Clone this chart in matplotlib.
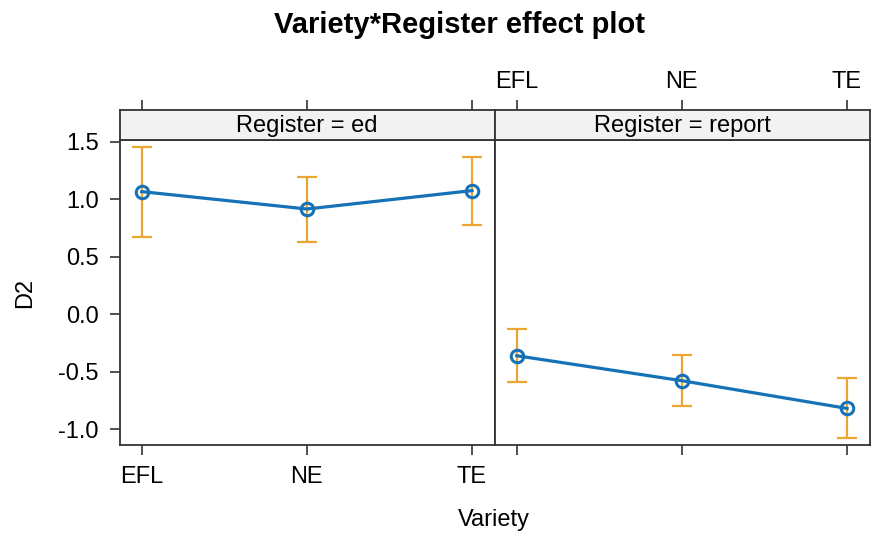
import numpy as np
import matplotlib
matplotlib.use("Agg")
import matplotlib.pyplot as plt

plt.rcParams['font.family'] = ['Liberation Sans', 'DejaVu Sans']

# effect estimates with 95% confidence limits, one list per register
varieties = ["EFL", "NE", "TE"]
registers = ["ed", "report"]
fit_ed = [1.066, 0.915, 1.075]
lower_ed = [0.674, 0.631, 0.774]
upper_ed = [1.458, 1.197, 1.371]
fit_report = [-0.361, -0.578, -0.819]
lower_report = [-0.587, -0.796, -1.075]
upper_report = [-0.131, -0.352, -0.552]
yticks = [-1.0, -0.5, 0.0, 0.5, 1.0, 1.5]

line_col = "#1572b6"
ci_col = "#eaa533"
frame_col = "#333333"
W, H = 875, 536
fs = 17

fig = plt.figure(figsize=(W / 100, H / 100), dpi=100)


def px_axes(x0, y0, x1, y1):
    # axes from pixel box (top-left origin)
    return fig.add_axes([x0 / W, 1 - y1 / H, (x1 - x0) / W, (y1 - y0) / H])


x = np.arange(1, len(varieties) + 1)
xlim = (0.865, 3.136)
ylim = (-1.137, 1.515)

panels = [
    (119.5, 494.5, fit_ed, lower_ed, upper_ed),
    (494.5, 869.5, fit_report, lower_report, upper_report),
]

for i, (x0, x1, fit, lo, hi) in enumerate(panels):
    ax = px_axes(x0, 140, x1, 445)
    strip = px_axes(x0, 109.5, x1, 140)

    fit = np.array(fit)
    lo = np.array(lo)
    hi = np.array(hi)
    ax.errorbar(x, fit, yerr=[fit - lo, hi - fit], fmt="none", ecolor=ci_col,
                elinewidth=1.6, capsize=7.5, capthick=1.6, zorder=2)
    ax.plot(x, fit, color=line_col, lw=2.3, marker="o", ms=9, mfc="none",
            mec=line_col, mew=2.2, zorder=3)

    ax.set_xlim(xlim)
    ax.set_ylim(ylim)
    ax.set_xticks(x)
    ax.set_yticks(yticks)
    ax.set_yticklabels([f"{v:.1f}" for v in yticks])
    ax.tick_params(direction="out", length=7, width=1.2, color=frame_col,
                   labelsize=fs, pad=8)
    if i == 0:
        ax.set_xticklabels(varieties)
        ax.set_ylabel("D2", fontsize=fs, labelpad=16)
    else:
        ax.set_xticklabels([])
        ax.tick_params(axis="y", left=False, labelleft=False)
    for s in ax.spines.values():
        s.set_color(frame_col)
        s.set_linewidth(1.3)

    # strip with panel label; alternating top axis ticks sit above it
    strip.set_facecolor("#f2f2f2")
    strip.set_xlim(xlim)
    strip.set_ylim(0, 1)
    strip.set_yticks([])
    strip.set_xticks(x)
    strip.tick_params(axis="x", bottom=False, labelbottom=False, top=True,
                      labeltop=(i == 1), direction="out", length=7, width=1.2,
                      color=frame_col, labelsize=fs, pad=5)
    if i == 1:
        strip.set_xticklabels(varieties)
    for s in strip.spines.values():
        s.set_color(frame_col)
        s.set_linewidth(1.3)
    strip.text(0.5, 0.45, f"Register = {registers[i]}", transform=strip.transAxes,
               ha="center", va="center", fontsize=fs)

fig.text(494 / W, 1 - 520 / H, "Variety", ha="center", va="center", fontsize=fs)
fig.text(459 / W, 1 - 25 / H, "Variety*Register effect plot", ha="center",
         va="center", fontsize=21, fontweight="bold")

fig.savefig("out.png", dpi=100)
